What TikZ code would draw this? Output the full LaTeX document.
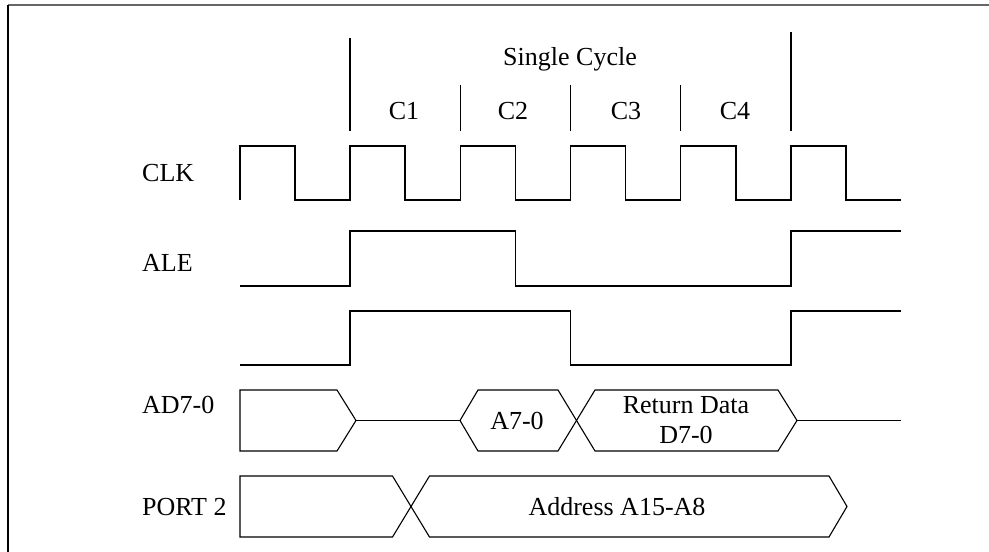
\documentclass[tikz,border=0pt]{standalone}
\usepackage{fontspec}
\setmainfont{Liberation Serif}
\begin{document}
\begin{tikzpicture}[x=1pt,y=-1pt,
  sig/.style={line width=1.1pt, line join=miter},
  lbl/.style={font=\fontsize{26}{30}\selectfont, inner sep=0pt, anchor=base},
  signame/.style={lbl, anchor=base west}]
\useasboundingbox (0,0) rectangle (989,552);

% frame edges
\draw[line width=2pt, black!60] (8,5) -- (989,5);
\draw[line width=2pt, black] (8,5) -- (8,552);

% cycle markers
\draw[sig] (350,38) -- (350,131);
\draw[sig] (791,32) -- (791,131);
\foreach \x in {460.5,570.5,680.5}
  \draw[sig] (\x,85) -- (\x,131);

\node[lbl] (cycle) at (570,65) {Single Cycle};
\node[lbl] (c1) at (404,119) {C1};
\node[lbl] (c2) at (513,119) {C2};
\node[lbl] (c3) at (626,119) {C3};
\node[lbl] (c4) at (735,119) {C4};

% signal names
\node[signame] (clk) at (142,181) {CLK};
\node[signame] (ale) at (142,271) {ALE};
\node[signame] (ad) at (142,413) {AD7-0};
\node[signame] (port) at (142,515) {PORT 2};

% CLK
\draw[sig] (240,200) -- (240,146) -- (295,146) -- (295,200) -- (350,200)
  -- (350,146) -- (405,146) -- (405,200) -- (460.5,200) -- (460.5,146)
  -- (515.5,146) -- (515.5,200) -- (570.5,200) -- (570.5,146) -- (625.5,146)
  -- (625.5,200) -- (680.5,200) -- (680.5,146) -- (736,146) -- (736,200)
  -- (791,200) -- (791,146) -- (846,146) -- (846,200) -- (901,200);

% ALE
\draw[sig] (240,286) -- (350,286) -- (350,231) -- (515.5,231) -- (515.5,286)
  -- (791,286) -- (791,231) -- (901,231);

% unlabelled strobe
\draw[sig] (240,365) -- (350,365) -- (350,311) -- (570.5,311) -- (570.5,365)
  -- (791,365) -- (791,311) -- (901,311);

% AD7-0 bus
\draw[sig] (240,390) -- (337,390) -- (356,420.5) -- (337,451) -- (240,451) -- cycle;
\draw[sig] (356,420.5) -- (460,420.5);
\draw[sig] (460,420.5) -- (478,390) -- (558,390) -- (576.5,420.5) -- (558,451) -- (478,451) -- cycle;
\draw[sig] (576.5,420.5) -- (595,390) -- (778,390) -- (797,420.5) -- (778,451) -- (595,451) -- cycle;
\draw[sig] (797,420.5) -- (901,420.5);
\node[lbl] (a70) at (517,429) {A7-0};
\node[lbl] (rd) at (686,413) {Return Data};
\node[lbl] (d70) at (686,443) {D7-0};

% PORT 2 bus
\draw[sig] (240,476) -- (392.5,476) -- (411,506.5) -- (392.5,537) -- (240,537) -- cycle;
\draw[sig] (411,506.5) -- (429.5,476) -- (829,476) -- (847,506.5) -- (829,537) -- (429.5,537) -- cycle;
\node[lbl] (addr) at (617,515) {Address A15-A8};
\end{tikzpicture}
\end{document}
